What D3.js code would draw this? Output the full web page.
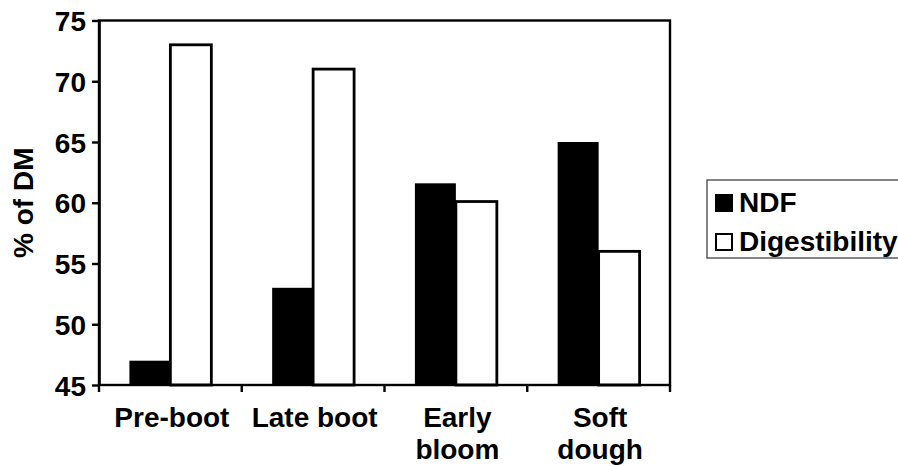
<!DOCTYPE html>
<html>
<head>
<meta charset="utf-8">
<script src="https://cdn.jsdelivr.net/npm/d3@7/dist/d3.min.js"></script>
<style>
  html, body { margin: 0; padding: 0; background: #fff; }
  svg { display: block; }
  text { font-family: "Liberation Sans", Arial, sans-serif; font-weight: bold; fill: #000; }
</style>
</head>
<body>
<svg id="chart" width="898" height="466"></svg>
<script>
// Forage composition by growth stage
const categories = ["Pre-boot", "Late boot", "Early bloom", "Soft dough"];
const categoryLines = [["Pre-boot"], ["Late boot"], ["Early", "bloom"], ["Soft", "dough"]];
const seriesNames = ["NDF", "Digestibility"];
const ndf = [47, 53, 61.6, 65];
const digestibility = [73, 71, 60.1, 56];
const yTicks = [45, 50, 55, 60, 65, 70, 75];
const yTitle = "% of DM";

const svg = d3.select("#chart");
const fontSize = 28;

const plot = { left: 99, right: 670, top: 20.5, bottom: 385 };

const x0 = d3.scaleBand().domain(categories).range([plot.left, plot.right]).padding(0);
const x1 = d3.scaleBand().domain(seriesNames)
  .range([x0.bandwidth() * 0.213, x0.bandwidth() * 0.787]).padding(0);
const y = d3.scaleLinear().domain([45, 75]).range([plot.bottom, plot.top]);

const rows = categories.map((c, i) => ({ cat: c, values: [
  { key: "NDF", value: ndf[i] },
  { key: "Digestibility", value: digestibility[i] }
]}));

// bars
const groups = svg.append("g").selectAll("g").data(rows).join("g")
  .attr("transform", d => `translate(${x0(d.cat)},0)`);

groups.selectAll("rect").data(d => d.values).join("rect")
  .attr("x", d => x1(d.key))
  .attr("y", d => y(d.value))
  .attr("width", x1.bandwidth())
  .attr("height", d => y(45) - y(d.value))
  .attr("fill", d => d.key === "NDF" ? "#000" : "#fff")
  .attr("stroke", d => d.key === "NDF" ? "none" : "#000")
  .attr("stroke-width", 2.8);

// plot frame
svg.append("rect")
  .attr("x", plot.left).attr("y", plot.top)
  .attr("width", plot.right - plot.left).attr("height", plot.bottom - plot.top)
  .attr("fill", "none").attr("stroke", "#000").attr("stroke-width", 2.4);

// y axis
const yAxis = d3.axisLeft(y).tickValues(yTicks).tickSize(7).tickSizeOuter(0).tickPadding(6);
const yg = svg.append("g").attr("transform", `translate(${plot.left},0)`).call(yAxis);
yg.select(".domain").attr("stroke-width", 2.6);
yg.selectAll(".tick line").attr("stroke-width", 2.4);
yg.selectAll(".tick text").style("font-size", fontSize + "px").attr("dy", "0.36em")
  .style("font-family", "'Liberation Sans', Arial, sans-serif").style("font-weight", "bold");

// x axis: ticks on category boundaries
const boundaries = categories.map(c => x0(c)).concat([plot.right]);
svg.append("g").selectAll("line").data(boundaries).join("line")
  .attr("x1", d => d).attr("x2", d => d)
  .attr("y1", plot.bottom).attr("y2", plot.bottom + 7)
  .attr("stroke", "#000").attr("stroke-width", 2.4);

const labels = svg.append("g").selectAll("text").data(categories).join("text")
  .attr("text-anchor", "middle")
  .style("font-size", fontSize + "px")
  .attr("transform", d => `translate(${x0(d) + x0.bandwidth() / 2 + 1.5},427)`);
labels.selectAll("tspan").data((d, i) => categoryLines[i]).join("tspan")
  .attr("x", 0).attr("y", (d, i) => i * 32).text(d => d);

// y title
svg.append("text")
  .attr("transform", `translate(33,${(plot.top + plot.bottom) / 2}) rotate(-90)`)
  .attr("text-anchor", "middle")
  .style("font-size", fontSize + "px")
  .text(yTitle);

// legend
const legend = svg.append("g");
legend.append("rect")
  .attr("x", 707).attr("y", 180).attr("width", 220).attr("height", 78)
  .attr("fill", "#fff").attr("stroke", "#333").attr("stroke-width", 1.2);
const items = legend.selectAll("g").data(seriesNames).join("g")
  .attr("transform", (d, i) => `translate(0,${i * 39})`);
items.append("rect")
  .attr("x", 716).attr("y", 195).attr("width", 16).attr("height", 16)
  .attr("fill", d => d === "NDF" ? "#000" : "#fff")
  .attr("stroke", "#000").attr("stroke-width", 2);
items.append("text")
  .attr("x", 739).attr("y", 212)
  .style("font-size", fontSize + "px")
  .text(d => d);
</script>
</body>
</html>
